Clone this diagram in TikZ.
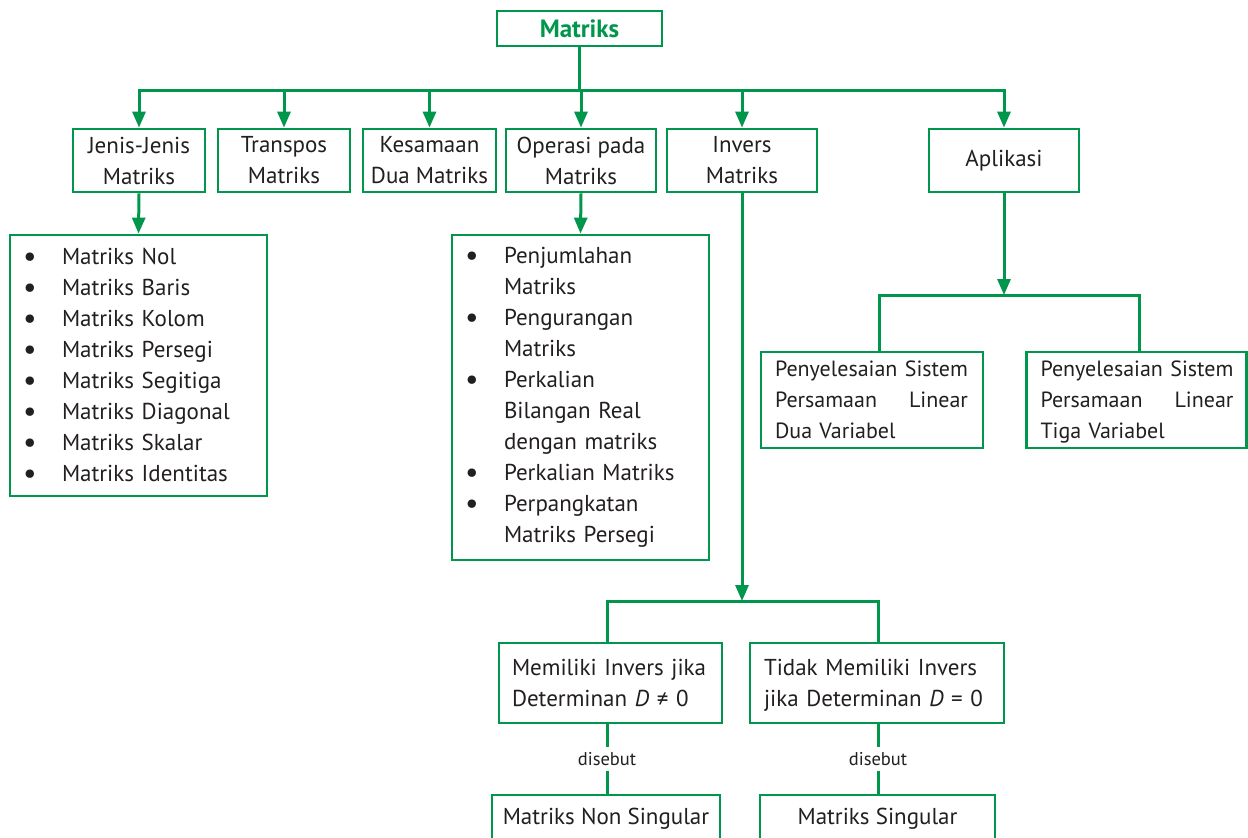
\documentclass[tikz,border=0pt]{standalone}
\usepackage{fontspec}
\setmainfont{PT Sans}
\usetikzlibrary{arrows.meta}
\definecolor{grn}{HTML}{00974D}
\definecolor{ink}{HTML}{231F20}
\newlength{\pw}
\newcommand{\bl}[1]{\hspace*{14pt}\makebox[12pt]{\raisebox{-2pt}{\fontsize{30}{31}\selectfont\textbullet}}\hspace*{26pt}#1}
\newcommand{\nb}[1]{\hspace*{52pt}#1}
\begin{document}
\begin{tikzpicture}[x=1pt,y=-1pt,
  box/.style={draw=grn, line width=2.8pt, fill=white, text=ink, inner sep=0pt,
    font=\fontsize{23}{31}\selectfont, align=center},
  listbox/.style={box, align=left},
  penybox/.style={listbox, font=\fontsize{22}{31}\selectfont},
  conn/.style={draw=grn, line width=3pt},
  arr/.style={conn, -{Triangle[length=16pt,width=13pt]}},
  lbl/.style={text=ink, font=\fontsize{18.5}{20}\selectfont, inner sep=5pt}
]
\clip (0,0) rectangle (1248,838);
\fill[white] (0,0) rectangle (1248,838);

\node[box, minimum width=165, minimum height=35, text=grn, font=\fontsize{25}{31}\selectfont\bfseries] (matriks) at (579.5,28.5) {Matriks};

\node[box, minimum width=132, minimum height=63] (jenis) at (139,160.5) {Jenis-Jenis\\Matriks};
\node[box, minimum width=132, minimum height=63] (transpos) at (284,160.5) {Transpos\\Matriks};
\node[box, minimum width=133, minimum height=63] (kesamaan) at (429.5,160.5) {Kesamaan\\Dua Matriks};
\node[box, minimum width=150, minimum height=63] (operasi) at (581,160.5) {Operasi pada\\Matriks};
\node[box, minimum width=150, minimum height=63] (invers) at (742,160.5) {Invers\\Matriks};
\node[box, minimum width=150, minimum height=63] (aplikasi) at (1004,160.5) {Aplikasi};

\node[listbox, minimum width=257, minimum height=261, text width=257] (jlist) at (138.5,365.5) {%
\bl{Matriks Nol}\\ \bl{Matriks Baris}\\ \bl{Matriks Kolom}\\ \bl{Matriks Persegi}\\
\bl{Matriks Segitiga}\\ \bl{Matriks Diagonal}\\ \bl{Matriks Skalar}\\ \bl{Matriks Identitas}};

\node[listbox, minimum width=257, minimum height=325, text width=257] (olist) at (580.5,397.5) {%
\bl{Penjumlahan}\\ \nb{Matriks}\\ \bl{Pengurangan}\\ \nb{Matriks}\\ \bl{Perkalian}\\
\nb{Bilangan Real}\\ \nb{dengan matriks}\\ \bl{Perkalian Matriks}\\ \bl{Perpangkatan}\\ \nb{Matriks Persegi}};

\node[penybox, minimum width=222, minimum height=96, text width=222] (peny1) at (872,400) {%
\settowidth{\pw}{Penyelesaian Sistem}\hspace*{14pt}\mbox{Penyelesaian Sistem}\\
\hspace*{14pt}\hbox to \pw{Persamaan\hfill Linear}\\ \hspace*{14pt}\smash{Dua Variabel}};
\node[penybox, minimum width=220, minimum height=96, text width=220] (peny2) at (1136.5,400) {%
\settowidth{\pw}{Penyelesaian Sistem}\hspace*{14pt}\mbox{Penyelesaian Sistem}\\
\hspace*{14pt}\hbox to \pw{Persamaan\hfill Linear}\\ \hspace*{14pt}\smash{Tiga Variabel}};

\node[listbox, minimum width=223, minimum height=80, text width=223] (memiliki) at (610.5,683) {%
\hspace*{13pt}\mbox{Memiliki Invers jika}\\ \hspace*{13pt}\smash{Determinan \textit{D} ≠ 0}};
\node[listbox, minimum width=254, minimum height=80, text width=254] (tidak) at (877,683) {%
\hspace*{14pt}\mbox{Tidak Memiliki Invers}\\ \hspace*{14pt}\smash{jika Determinan \textit{D} = 0}};

\node[lbl] (dis1) at (607,759) {disebut};
\node[lbl] (dis2) at (878,759) {disebut};

\node[box, minimum width=228, minimum height=48] (nonsing) at (606,819) {Matriks Non Singular};
\node[box, minimum width=235, minimum height=48] (sing) at (877.5,819) {Matriks Singular};

% top connectors
\coordinate (tb) at (0,90);
\draw[conn] (matriks.south) -- (matriks.south |- tb);
\draw[conn, line cap=rect] (jenis.north |- tb) -- (aplikasi.north |- tb);
\foreach \n in {jenis,transpos,kesamaan,operasi,invers,aplikasi}
  \draw[arr] (\n.north |- tb) -- (\n.north);

\draw[arr] (jenis.south) -- (jlist.north);
\draw[arr] (operasi.south) -- (olist.north);

% aplikasi branch
\coordinate (a1) at (879,295);
\coordinate (a2) at (1139,295);
\draw[arr] (aplikasi.south) -- (aplikasi.south |- a1);
\draw[conn, line cap=rect] (a1) -- (a2);
\draw[conn] (a1) -- (a1 |- peny1.north);
\draw[conn] (a2) -- (a2 |- peny2.north);

% invers branch
\coordinate (ib) at (742,601);
\draw[arr] (invers.south) -- (ib);
\draw[conn, line cap=rect] (dis1 |- ib) -- (dis2 |- ib);
\draw[conn] (dis1 |- ib) -- (dis1 |- memiliki.north);
\draw[conn] (dis2 |- ib) -- (dis2 |- tidak.north);

\draw[conn] (dis1 |- memiliki.south) -- (dis1.north);
\draw[conn] (dis1.south) -- (dis1 |- nonsing.north);
\draw[conn] (dis2 |- tidak.south) -- (dis2.north);
\draw[conn] (dis2.south) -- (dis2 |- sing.north);
\end{tikzpicture}
\end{document}
